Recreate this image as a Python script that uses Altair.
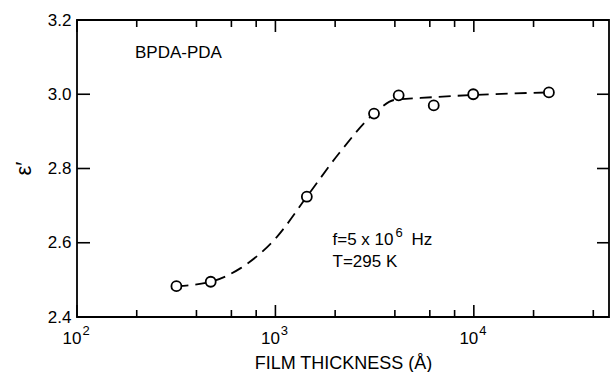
import altair as alt
import pandas as pd

# measured points
thickness = [317, 472, 1440, 3140, 4180, 6280, 9930, 23900]
eps = [2.483, 2.495, 2.724, 2.948, 2.997, 2.970, 3.000, 3.005]

# dashed guide curve
curve_x = [317, 472, 665, 1018, 1440, 2094, 3140, 4000, 5400, 9930, 23900]
curve_y = [2.483, 2.495, 2.531, 2.616, 2.724, 2.841, 2.948, 2.985, 2.990, 2.998, 3.005]

x_major = [100, 1000, 10000]
x_exp = ["2", "3", "4"]
x_minor = [200, 400, 600, 800, 2000, 4000, 6000, 8000, 20000, 40000]
y_ticks = [2.4, 2.6, 2.8, 3.0, 3.2]
y_inner = [2.6, 2.8, 3.0]

ann_x = [196, 1940, 1940]
ann_y = [3.098, 2.594, 2.534]
ann_text = ["BPDA-PDA", "f=5 x 10", "T=295 K"]
freq_exp = ["6"]
freq_unit = ["Hz"]

W, H = 532, 297
FONT = "Liberation Sans"

xscale = alt.Scale(type="log", domain=[100, 48000], nice=False)
yscale = alt.Scale(domain=[2.4, 3.2], nice=False, zero=False)

AX_X = alt.Axis(
    values=x_major, labels=False, ticks=False, domain=False, grid=False,
    title="FILM THICKNESS (Å)", titleY=51, titleBaseline="alphabetic",
    titleFont=FONT, titleFontSize=18, titleFontWeight="normal", titleColor="black")
AX_Y = alt.Axis(
    values=y_ticks, format=".1f", ticks=False, domain=False, grid=False,
    labelFont=FONT, labelFontSize=17, labelColor="black", labelPadding=6,
    title="\u03b5\u2032", titleX=-54, titleY=148, titleAngle=270,
    titleAlign="center", titleBaseline="middle",
    titleFont=FONT, titleFontSize=22, titleFontWeight="normal", titleColor="black")

pts = pd.DataFrame({"t": thickness, "e": eps})
crv = pd.DataFrame({"t": curve_x, "e": curve_y})
maj = pd.DataFrame({"t": x_major, "exp": x_exp})
mnr = pd.DataFrame({"t": x_minor})
yin = pd.DataFrame({"e": y_inner})
ann = pd.DataFrame({"t": ann_x, "e": ann_y, "text": ann_text})
fexp = pd.DataFrame({"t": ann_x[1:2], "e": ann_y[1:2], "text": freq_exp})
funit = pd.DataFrame({"t": ann_x[1:2], "e": ann_y[1:2], "text": freq_unit})

X = alt.X("t:Q", scale=xscale, axis=AX_X)
Y = alt.Y("e:Q", scale=yscale, axis=AX_Y)

line = alt.Chart(crv).mark_line(
    color="black", strokeWidth=1.8, strokeDash=[12, 7], interpolate="monotone"
).encode(x=X, y=Y)

points = alt.Chart(pts).mark_point(
    shape="circle", size=100, fill="white", stroke="black", strokeWidth=1.8,
    opacity=1, fillOpacity=1
).encode(x=X, y=Y)

def xticks(df, y0, y1):
    return alt.Chart(df).mark_rule(color="black", strokeWidth=1.6).encode(
        x=X, y=alt.value(y0), y2=alt.value(y1))

def yticks(x0, x1):
    return alt.Chart(yin).mark_rule(color="black", strokeWidth=1.6).encode(
        y=Y, x=alt.value(x0), x2=alt.value(x1))

ten = alt.Chart(maj).mark_text(
    text="10", font=FONT, fontSize=17, color="black", align="center",
    baseline="alphabetic", dx=-5
).encode(x=X, y=alt.value(H + 27))

expo = alt.Chart(maj).mark_text(
    font=FONT, fontSize=13, color="black", align="center",
    baseline="alphabetic", dx=9
).encode(x=X, y=alt.value(H + 18), text="exp:N")

txt = dict(font=FONT, color="black", baseline="alphabetic", align="left")

notes = alt.Chart(ann).mark_text(fontSize=17, **txt).encode(x=X, y=Y, text="text:N")
notes_exp = alt.Chart(fexp).mark_text(fontSize=13, dx=63, dy=-8, **txt).encode(
    x=X, y=Y, text="text:N")
notes_unit = alt.Chart(funit).mark_text(fontSize=17, dx=79, **txt).encode(
    x=X, y=Y, text="text:N")

chart = alt.layer(
    line, points,
    xticks(maj, H, H - 12), xticks(mnr, H, H - 7),
    xticks(maj, 0, 12), xticks(mnr, 0, 7),
    yticks(0, 13), yticks(W, W - 12),
    ten, expo, notes, notes_exp, notes_unit,
).properties(
    width=W, height=H,
    autosize=alt.AutoSizeParams(type="none"),
    padding={"left": 77, "top": 20, "right": 1, "bottom": 55},
    background="white",
).configure_view(
    stroke="black", strokeWidth=1.8
)

chart.save("out.html", embed_options={"renderer": "svg", "actions": False})
